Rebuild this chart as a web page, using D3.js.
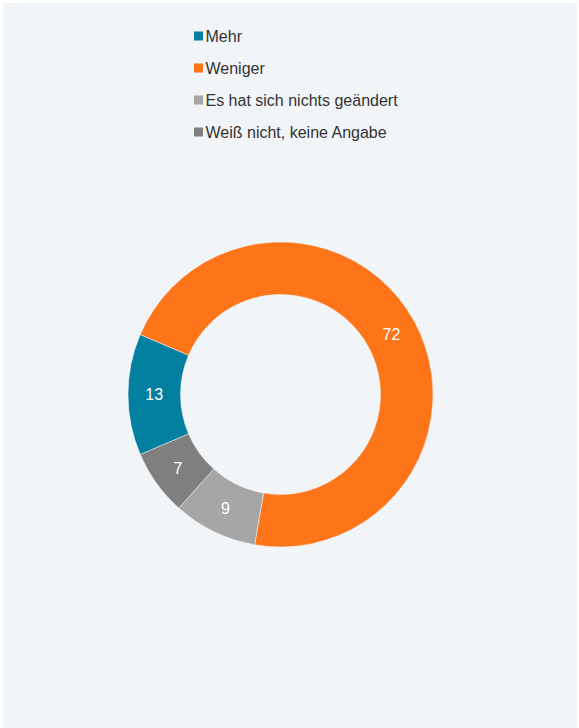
<!DOCTYPE html>
<html>
<head>
<meta charset="utf-8">
<script src="https://cdn.jsdelivr.net/npm/d3@7"></script>
<style>
  html, body { margin: 0; padding: 0; background: #ffffff; }
  svg { display: block; font-family: "Liberation Sans", Arial, sans-serif; }
</style>
</head>
<body>
<svg id="chart" width="579" height="728"></svg>
<script>
// Answer categories, their shares (%) and colours
const categories = ["Mehr", "Weniger", "Es hat sich nichts geändert", "Weiß nicht, keine Angabe"];
const values = [13, 72, 9, 7];
const colors = ["#037fa0", "#fe7519", "#a6a6a6", "#7f7f7f"];

const svg = d3.select("#chart");
const W = 579, H = 728;

// Panel background
svg.append("rect")
  .attr("x", 3).attr("y", 3)
  .attr("width", W - 5).attr("height", H - 3)
  .attr("fill", "#f2f5f8");

// Legend
const legend = svg.append("g").attr("transform", "translate(194,36)");
const rows = legend.selectAll("g").data(categories).join("g")
  .attr("transform", (d, i) => `translate(0,${i * 32})`);
rows.append("rect")
  .attr("x", 0).attr("y", -4.5)
  .attr("width", 9).attr("height", 9)
  .attr("fill", (d, i) => colors[i]);
rows.append("text")
  .attr("x", 11.5).attr("y", 0)
  .attr("dy", "0.35em")
  .attr("font-size", 16)
  .attr("fill", "#333333")
  .text(d => d);

// Donut
const cx = 280.5, cy = 394.5;
const outerR = 152.5, innerR = 100;
const startDeg = 246.8;

const pie = d3.pie()
  .sort(null)
  .value(d => d)
  .startAngle(startDeg * Math.PI / 180)
  .endAngle((startDeg + 360) * Math.PI / 180);

const arc = d3.arc().innerRadius(innerR).outerRadius(outerR);
const labelArc = d3.arc().innerRadius((innerR + outerR) / 2).outerRadius((innerR + outerR) / 2);

const g = svg.append("g").attr("transform", `translate(${cx},${cy})`);
const arcs = pie(values);

g.selectAll("path").data(arcs).join("path")
  .attr("d", arc)
  .attr("fill", (d, i) => colors[i])
  .attr("stroke", "#f2f5f8")
  .attr("stroke-width", 0.5);

g.selectAll("text").data(arcs).join("text")
  .attr("transform", d => `translate(${labelArc.centroid(d)})`)
  .attr("text-anchor", "middle")
  .attr("dy", "0.35em")
  .attr("font-size", 16)
  .attr("fill", "#ffffff")
  .text(d => d.data);
</script>
</body>
</html>
